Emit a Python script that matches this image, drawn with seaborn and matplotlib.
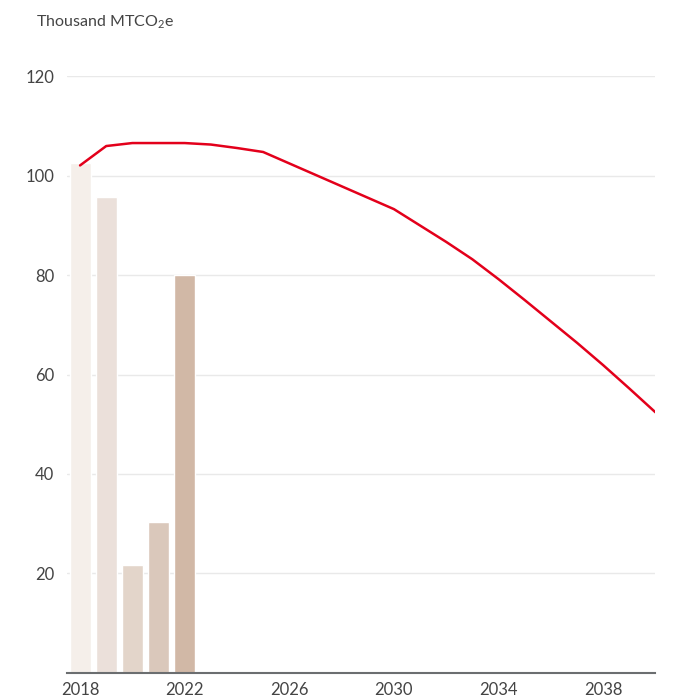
import matplotlib
matplotlib.use("Agg")
import matplotlib.pyplot as plt
import seaborn as sns
import pandas as pd

# Historical emissions (bars)
bar_years = [2018, 2019, 2020, 2021, 2022]
bar_values = [102.6, 95.8, 21.7, 30.3, 80.0]
bar_colors = ["#f5efea", "#ebe0da", "#e3d5ca", "#dac8bb", "#d1b8a6"]

# Projected pathway (line)
line_years = list(range(2018, 2041))
line_values = [102.1, 106.0, 106.6, 106.6, 106.6, 106.3, 105.6, 104.8,
               102.5, 100.2, 97.9, 95.6, 93.3, 90.0, 86.7, 83.2,
               79.2, 75.0, 70.7, 66.4, 61.9, 57.2, 52.4]

y_ticks = [20, 40, 60, 80, 100, 120]
x_ticks = [2018, 2022, 2026, 2030, 2034, 2038]
unit_label = r"Thousand MTCO$_2$e"

sns.set_theme(style="white")
plt.rcParams["font.family"] = ["Lato", "DejaVu Sans"]
plt.rcParams["mathtext.fontset"] = "custom"
plt.rcParams["mathtext.rm"] = "Lato"
plt.rcParams["mathtext.it"] = "Lato"
plt.rcParams["mathtext.default"] = "rm"

text_color = "#444444"

fig = plt.figure(figsize=(6.78, 6.99), dpi=100)
ax = fig.add_axes([0.0988, 0.0376, 0.868, 0.853])

bars = pd.DataFrame({"year": bar_years, "value": bar_values})
line = pd.DataFrame({"year": line_years, "value": line_values})

sns.barplot(data=bars, x="year", y="value", hue="year", palette=bar_colors,
            native_scale=True, width=0.8, legend=False, ax=ax,
            saturation=1, zorder=2)
sns.lineplot(data=line, x="year", y="value", color="#e3001b", linewidth=1.8,
             ax=ax, zorder=3)

ax.set_xlim(2017.5, 2040)
ax.set_ylim(0, 120)
ax.set_yticks(y_ticks)
ax.set_xticks(x_ticks)
ax.set_xticklabels([str(t) for t in x_ticks])
ax.set_xlabel("")
ax.set_ylabel("")

ax.yaxis.grid(True, color="#e9e9e9", linewidth=1.0, zorder=0)
ax.set_axisbelow(True)
for side in ["top", "right", "left"]:
    ax.spines[side].set_visible(False)
ax.spines["bottom"].set_color("#6b6e70")
ax.spines["bottom"].set_linewidth(1.5)
ax.spines["bottom"].set_zorder(4)

ax.tick_params(axis="y", length=0, pad=9, labelsize=12, labelcolor=text_color)
ax.tick_params(axis="x", length=0, pad=7, labelsize=12, labelcolor=text_color)

fig.text(0.053, 0.962, unit_label, fontsize=11.5, color=text_color,
         ha="left", va="baseline")

fig.savefig("out.png", dpi=100)
